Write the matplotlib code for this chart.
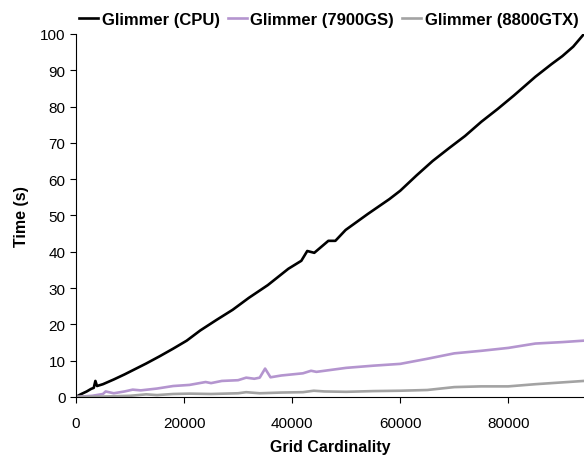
import matplotlib
matplotlib.use("Agg")
import matplotlib.pyplot as plt

plt.rcParams['font.family'] = ['Liberation Sans', 'DejaVu Sans']

# grid size vs. run time for the three Glimmer builds
cpu_x = [0, 1000, 2000, 2800, 3300, 3600, 3900, 5000, 7000, 9000, 11000, 13000,
         15500, 18000, 20500, 23000, 26000, 29000, 32000, 35500, 39300, 41700,
         42800, 44100, 46700, 48000, 49900, 54000, 58000, 60000, 63000, 66000,
         69000, 72000, 75000, 78000, 81000, 85000, 88000, 90000, 92000, 94000]
cpu_y = [0, 0.8, 1.5, 2.2, 2.5, 4.4, 3.0, 3.5, 4.8, 6.2, 7.7, 9.2,
         11.2, 13.3, 15.5, 18.3, 21.2, 24.0, 27.3, 30.8, 35.3, 37.5,
         40.2, 39.7, 43.0, 43.0, 46.0, 50.4, 54.5, 56.8, 61.0, 65.0,
         68.5, 71.9, 75.8, 79.3, 83.0, 88.2, 91.7, 93.9, 96.5, 100]

gs7900_x = [0, 3000, 5000, 5500, 7000, 9000, 10500, 12000, 15000, 18000, 21000,
            24000, 25000, 27000, 30000, 31500, 33000, 34000, 35000, 36000, 38000,
            40000, 42000, 43500, 44500, 47000, 50000, 55000, 60000, 65000, 70000,
            75000, 80000, 85000, 90000, 94000]
gs7900_y = [0, 0.3, 0.8, 1.5, 1.0, 1.5, 2.0, 1.8, 2.3, 3.0, 3.3,
            4.1, 3.8, 4.4, 4.6, 5.3, 5.0, 5.3, 7.8, 5.4, 5.9,
            6.2, 6.5, 7.2, 6.9, 7.4, 8.0, 8.6, 9.1, 10.5, 12.0,
            12.7, 13.5, 14.7, 15.1, 15.5]

gtx8800_x = [0, 5000, 10000, 13000, 15000, 18000, 21000, 25000, 30000, 31500,
             34000, 38000, 42000, 44000, 46000, 50000, 55000, 60000, 65000,
             70000, 75000, 80000, 85000, 90000, 94000]
gtx8800_y = [0, 0.1, 0.3, 0.7, 0.5, 0.8, 0.9, 0.8, 1.0, 1.3,
             1.0, 1.2, 1.3, 1.7, 1.5, 1.4, 1.6, 1.7, 1.9,
             2.7, 2.9, 2.9, 3.5, 4.0, 4.4]

labels = ['Glimmer (CPU)', 'Glimmer (7900GS)', 'Glimmer (8800GTX)']
colors = ['#000000', '#b495cf', '#a3a3a3']

fig = plt.figure(figsize=(5.84, 4.6), dpi=100)
ax = fig.add_axes([0.130, 0.135, 0.87, 0.789])

ax.plot(cpu_x, cpu_y, color=colors[0], lw=1.9, label=labels[0])
ax.plot(gs7900_x, gs7900_y, color=colors[1], lw=1.9, label=labels[1])
ax.plot(gtx8800_x, gtx8800_y, color=colors[2], lw=1.9, label=labels[2])

ax.set_xlim(0, 94000)
ax.set_ylim(0, 100)
ax.set_xticks([0, 20000, 40000, 60000, 80000])
ax.set_yticks(range(0, 101, 10))
ax.spines['top'].set_visible(False)
ax.spines['right'].set_visible(False)
ax.tick_params(direction='out', length=4, width=0.8, labelsize=11)
ax.tick_params(axis='x', pad=9.5)

ax.set_xlabel('Grid Cardinality', fontsize=11.5, fontweight='bold', labelpad=7)
ax.set_ylabel('Time (s)', fontsize=11.5, fontweight='bold', labelpad=8)

fig.legend(loc='center', bbox_to_anchor=(0.563, 0.956), ncol=3, frameon=False,
           handlelength=1.15, handletextpad=0.2, columnspacing=0.48,
           prop={'size': 12, 'weight': 'bold'})

plt.savefig('out.png', dpi=100)
plt.close()
